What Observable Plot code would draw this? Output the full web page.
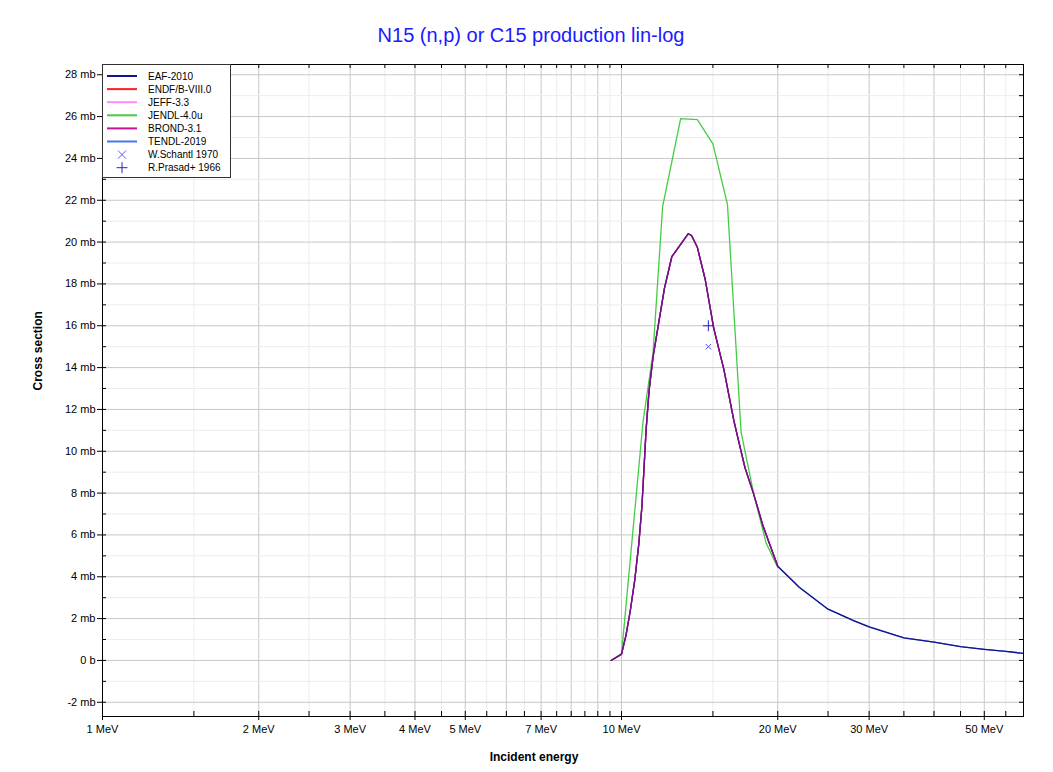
<!DOCTYPE html>
<html><head><meta charset="utf-8">
<script src="https://cdn.jsdelivr.net/npm/d3@7"></script>
<script src="https://cdn.jsdelivr.net/npm/@observablehq/plot@0.6"></script>
<style>
body{margin:0;background:#fff;font-family:"Liberation Sans",Arial,sans-serif;}
#chart{width:1053px;height:772px;}
</style></head><body><div id="chart"></div>
<script>
const title = "N15 (n,p) or C15 production lin-log";
const xLabel = "Incident energy";
const yLabel = "Cross section";

const xLabelTicks = [1, 2, 3, 4, 5, 7, 10, 20, 30, 50];
const xMajorGrid = [1, 2, 3, 4, 5, 6, 7, 8, 9, 10, 20, 30, 40, 50];
const xMinorGrid = [1.5, 2.5, 3.5, 4.5, 5.5, 6.5, 7.5, 8.5, 9.5, 15, 25, 35, 45, 55];
const xAllTicks = [1, 1.5, 2, 2.5, 3, 3.5, 4, 4.5, 5, 5.5, 6, 6.5, 7, 7.5, 8, 8.5, 9, 9.5, 10, 15, 20, 25, 30, 35, 40, 45, 50, 55];
const yMajorTicks = [-2, 0, 2, 4, 6, 8, 10, 12, 14, 16, 18, 20, 22, 24, 26, 28];
const yMinorTicks = [-1, 1, 3, 5, 7, 9, 11, 13, 15, 17, 19, 21, 23, 25, 27];

const seriesNames = ["EAF-2010", "ENDF/B-VIII.0", "JEFF-3.3", "JENDL-4.0u", "BROND-3.1", "TENDL-2019"];
const seriesColors = ["#14148c", "#ff2020", "#ff88ff", "#44cc44", "#cc1199", "#4477ee"];
const expNames = ["W.Schantl 1970", "R.Prasad+ 1966"];
const expColors = ["#5555ff", "#2222cc"];
const expSymbols = ["times", "plus"];

// evaluations that coincide below 20 MeV (EAF, ENDF, JEFF, BROND, TENDL)
const commonE  = [9.55, 10, 10.2, 10.4, 10.6, 10.8, 10.95, 11.05, 11.15, 11.3, 11.5, 11.75, 12.1, 12.5, 13.45, 13.65, 14, 14.5, 15.05, 15.75, 16.45, 16.7, 17.3, 17.95, 18.75, 20];
const commonXS = [0, 0.3, 1.2, 2.4, 3.8, 5.6, 7.4, 9.2, 11.0, 12.9, 14.5, 15.9, 17.8, 19.3, 20.4, 20.3, 19.75, 18.2, 15.9, 13.9, 11.5, 10.8, 9.2, 8.0, 6.4, 4.5];
// high-energy tail (EAF-2010, TENDL-2019)
const tailE  = [22, 25, 28, 30, 35, 40, 45, 50, 55, 60];
const tailXS = [3.5, 2.45, 1.9, 1.6, 1.08, 0.88, 0.66, 0.53, 0.43, 0.33];
// JENDL-4.0u
const jendlE  = [9.55, 10, 11, 11.5, 12, 13, 14, 15, 16, 17, 18, 19, 20];
const jendlXS = [0, 0.3, 11.4, 14.7, 21.7, 25.9, 25.85, 24.7, 21.8, 10.9, 7.9, 5.6, 4.45];
// experimental points
const schantlE = [14.7], schantlXS = [15.0];
const prasadE = [14.7], prasadXS = [16.0];

const toRows = (es, vs) => es.map((e, i) => ({E: e, xs: vs[i]}));
const common = toRows(commonE, commonXS);
const full = common.concat(toRows(tailE, tailXS));
const jendl = toRows(jendlE, jendlXS);
const schantl = toRows(schantlE, schantlXS);
const prasad = toRows(prasadE, prasadXS);

const W = 1053, H = 772, mL = 102, mR = 30, mT = 64, mB = 56;
const fw = W - mL - mR, fh = H - mT - mB;
const font = "'Liberation Sans', Arial, sans-serif";
const ln = (data, idx, extra = {}) => Plot.line(data, {x: "E", y: "xs", stroke: seriesColors[idx], strokeWidth: 1.3, clip: true, ...extra});

const plot = Plot.plot({
  width: W, height: H,
  marginLeft: mL, marginRight: mR, marginTop: mT, marginBottom: mB,
  x: {type: "log", domain: [1, 59.5]},
  y: {domain: [-2.68, 28.49]},
  style: {fontFamily: font, fontSize: "11px", background: "white", color: "black"},
  marks: [
    Plot.gridX(xMinorGrid, {stroke: "#ececec", strokeOpacity: 1}),
    Plot.gridX(xMajorGrid, {stroke: "#c8c8c8", strokeOpacity: 1}),
    Plot.gridY(yMinorTicks, {stroke: "#ececec", strokeOpacity: 1}),
    Plot.gridY(yMajorTicks, {stroke: "#c8c8c8", strokeOpacity: 1}),
    ln(jendl, 3),
    ln(full, 5),
    ln(common, 2),
    ln(common, 1),
    ln(full, 0),
    ln(common, 4, {strokeOpacity: 0.5}),
    Plot.dot(schantl, {x: "E", y: "xs", symbol: expSymbols[0], stroke: expColors[0], r: 2.6, strokeWidth: 1}),
    Plot.dot(prasad, {x: "E", y: "xs", symbol: expSymbols[1], stroke: expColors[1], r: 3.6, strokeWidth: 1}),
    // inward ticks
    Plot.ruleX(xAllTicks, {insetTop: fh - 5, stroke: "black"}),
    Plot.ruleX(xAllTicks, {insetBottom: fh - 4, stroke: "black"}),
    Plot.ruleY(yMajorTicks.concat(yMinorTicks), {insetRight: fw - 4, stroke: "black"}),
    Plot.ruleY(yMajorTicks.concat(yMinorTicks), {insetLeft: fw - 4, stroke: "black"}),
    Plot.axisX(xLabelTicks, {tickSize: 4, tickPadding: 5, label: null, tickFormat: d => `${d} MeV`}),
    Plot.axisY(yMajorTicks, {tickSize: 5, tickPadding: 2, label: null, tickFormat: d => d === 0 ? "0 b" : `${d} mb`}),
    Plot.frame({stroke: "black"}),
    Plot.text([title], {frameAnchor: "top", dx: -32, dy: -29, fontSize: 20, fill: "#1a1aff", lineAnchor: "middle"}),
    Plot.text([xLabel], {frameAnchor: "bottom", dx: -29, dy: 41, fontSize: 12, fontWeight: "bold", lineAnchor: "middle"}),
    Plot.text([yLabel], {frameAnchor: "left", dx: -64, rotate: -90, fontSize: 12, fontWeight: "bold", lineAnchor: "middle"})
  ]
});
document.getElementById("chart").appendChild(plot);

// legend
const svg = d3.select(plot);
const lg = svg.append("g").attr("font-family", font).attr("font-size", 10).attr("text-anchor", "start");
lg.append("rect").attr("x", mL + 0.5).attr("y", mT + 0.5).attr("width", 128).attr("height", 113)
  .attr("fill", "white").attr("stroke", "#333");
const rowY = i => mT + 12 + 13.1 * i;
seriesNames.forEach((name, i) => {
  lg.append("line").attr("x1", mL + 5).attr("x2", mL + 35).attr("y1", rowY(i)).attr("y2", rowY(i))
    .attr("stroke", seriesColors[i]).attr("stroke-width", 2);
  lg.append("text").attr("x", mL + 46).attr("y", rowY(i)).attr("dy", "0.35em").attr("text-anchor", "start").text(name);
});
expNames.forEach((name, j) => {
  const i = seriesNames.length + j, cy = rowY(i), cx = mL + 20;
  const s = j === 0 ? 4 : 5.5;
  if (j === 0) {
    lg.append("path").attr("d", `M${cx - s},${cy - s}L${cx + s},${cy + s}M${cx - s},${cy + s}L${cx + s},${cy - s}`)
      .attr("stroke", expColors[j]).attr("stroke-width", 1).attr("fill", "none");
  } else {
    lg.append("path").attr("d", `M${cx - s},${cy}L${cx + s},${cy}M${cx},${cy - s}L${cx},${cy + s}`)
      .attr("stroke", expColors[j]).attr("stroke-width", 1).attr("fill", "none");
  }
  lg.append("text").attr("x", mL + 46).attr("y", cy).attr("dy", "0.35em").attr("text-anchor", "start").text(name);
});
</script></body></html>
